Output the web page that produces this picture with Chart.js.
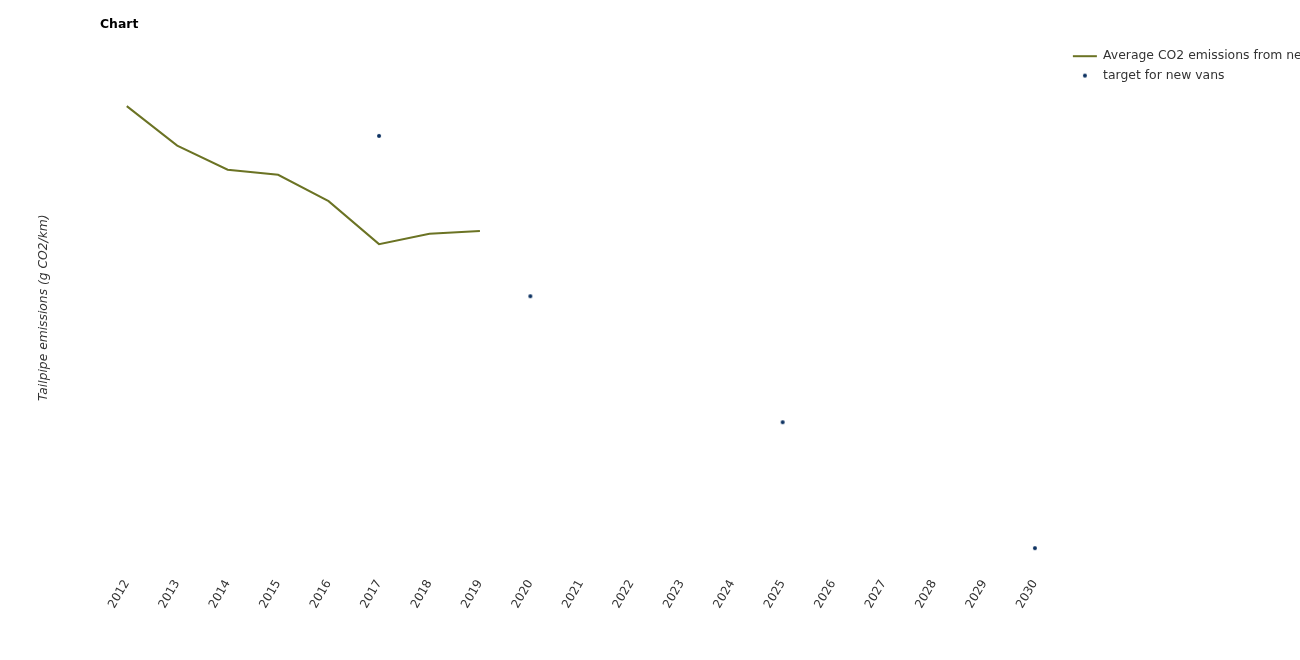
<!DOCTYPE html>
<html>
<head>
<meta charset="utf-8">
<script src="https://cdn.jsdelivr.net/npm/chart.js@4.4.1/dist/chart.umd.min.js"></script>
<style>
  html, body { margin: 0; padding: 0; background: #fff; overflow: hidden; }
  #wrap { position: relative; width: 1355px; height: 660px; }
</style>
</head>
<body>
<div id="wrap"><canvas id="myChart"></canvas></div>
<script>
// categories and series
const years = ['2012', '2013', '2014', '2015', '2016', '2017', '2018', '2019', '2020', '2021',
  '2022', '2023', '2024', '2025', '2026', '2027', '2028', '2029', '2030'];
const avgEmissions = [180.2, 173.3, 169.1, 168.2, 163.6, 156.1, 157.9, 158.4, null, null,
  null, null, null, null, null, null, null, null, null];
const vanTargets = [null, null, null, null, null, 175, null, null, 147, null,
  null, null, null, 125, null, null, null, null, 103];

Chart.defaults.font.family = 'DejaVu Sans';
Chart.defaults.font.size = 12;
Chart.defaults.color = '#333';

// small dot used as the point style of the targets (also in legend)
const dot = document.createElement('canvas');
dot.width = 6; dot.height = 6;
const dctx = dot.getContext('2d');
dctx.fillStyle = '#0b3060';
dctx.beginPath();
dctx.arc(3, 3, 2, 0, Math.PI * 2);
dctx.fill();

// title drawn at a fixed spot like the original
const titlePlugin = {
  id: 'leftTitle',
  afterDraw(chart) {
    const c = chart.ctx;
    c.save();
    c.font = 'bold 12.4px "DejaVu Sans"';
    c.fillStyle = '#000';
    c.textBaseline = 'middle';
    c.fillText('Chart', 100, 25);
    c.restore();
  }
};

const ctx = document.getElementById('myChart').getContext('2d');
const chart = new Chart(ctx, {
  type: 'line',
  data: {
    labels: years,
    datasets: [{
      label: 'Average CO2 emissions from new vans',
      data: avgEmissions,
      borderColor: '#6b7324',
      backgroundColor: '#6b7324',
      borderWidth: 2,
      pointRadius: 0,
      pointStyle: 'line',
      tension: 0,
      spanGaps: false
    }, {
      label: 'target for new vans',
      data: vanTargets,
      showLine: false,
      borderColor: '#0b3060',
      backgroundColor: '#0b3060',
      pointStyle: dot,
      pointRadius: 2
    }]
  },
  options: {
    responsive: true,
    maintainAspectRatio: false,
    animation: false,
    layout: {
      padding: { left: 28, top: 43, bottom: 45, right: 0 }
    },
    plugins: {
      title: { display: false },
      tooltip: { enabled: false },
      legend: {
        position: 'right',
        align: 'start',
        maxWidth: 400,
        labels: {
          usePointStyle: true,
          pointStyleWidth: 24,
          padding: 7,
          color: '#333',
          font: { size: 12.4 }
        }
      }
    },
    scales: {
      x: {
        offset: false,
        grid: { display: false },
        border: { display: false },
        ticks: {
          minRotation: 60,
          maxRotation: 60,
          autoSkip: false,
          color: '#333',
          padding: 4
        }
      },
      // empty spacers so the plot sits where the original's does
      xTop: {
        type: 'category',
        position: 'top',
        grid: { display: false },
        border: { display: false },
        ticks: { display: false },
        afterFit(scale) { scale.height = 7; }
      },
      y: {
        min: 100,
        max: 190,
        grid: { display: false },
        border: { display: false },
        ticks: { display: false },
        title: {
          display: true,
          text: 'Tailpipe emissions (g CO2/km)',
          font: { style: 'italic', size: 12.3 },
          color: '#333',
          padding: { top: 8, bottom: 68 }
        }
      },
      yRight: {
        type: 'linear',
        position: 'right',
        grid: { display: false },
        border: { display: false },
        ticks: { display: false },
        afterFit(scale) { scale.width = 31; }
      }
    }
  },
  plugins: [titlePlugin]
});
</script>
</body>
</html>
